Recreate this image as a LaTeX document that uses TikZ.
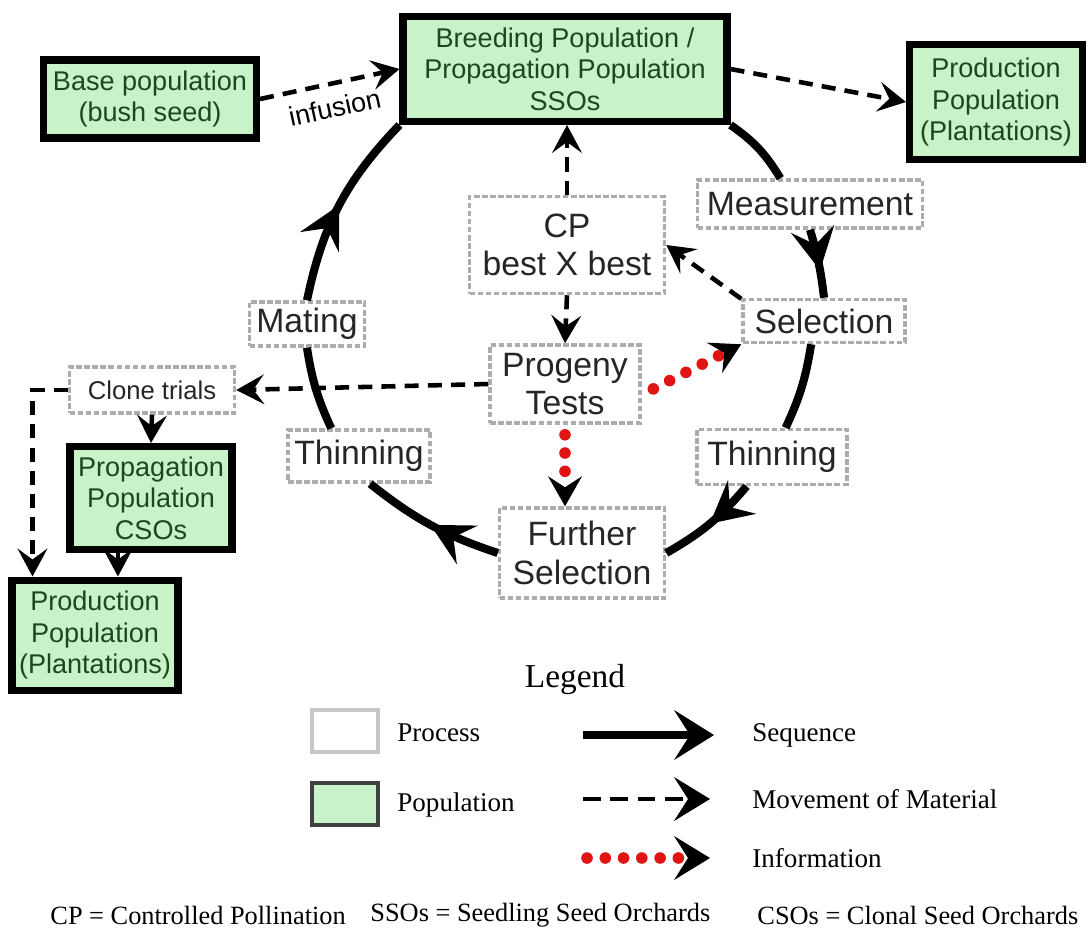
\documentclass[tikz,border=0pt]{standalone}
\usepackage{fontspec}
\setmainfont{Liberation Serif}
\setsansfont{Liberation Sans}
\usetikzlibrary{arrows.meta,decorations.markings}
\definecolor{popfill}{RGB}{200,242,200}
\definecolor{poptext}{RGB}{28,72,28}
\definecolor{infored}{RGB}{225,20,20}
\begin{document}
\begin{tikzpicture}[x=0.1mm,y=-0.1mm,
  proc/.style={draw=gray!65,dash pattern=on 1.6pt off 0.7pt,line width=1pt,fill=white,text=black!85,align=center,inner sep=1pt,font=\sffamily\fontsize{9.6}{11}\selectfont},
  pop/.style={draw=black,line width=2pt,fill=popfill,text=poptext,align=center,inner sep=1pt,font=\sffamily\fontsize{7.7}{9}\selectfont},
  seq/.style={line width=2.3pt,postaction={decorate},decoration={markings,mark=at position #1 with {\arrow{Stealth[length=4.2mm,width=4.4mm,inset=1.6mm,line width=0.4pt]}}}},
  seq/.default=0.5,
  seqline/.style={line width=2.3pt},
  move/.style={line width=1.3pt,dash pattern=on 4pt off 2.6pt,-{Stealth[length=2.8mm,width=3mm,inset=1.1mm,line width=0.4pt]}},
  info/.style={infored,line width=3.3pt,line cap=round,dash pattern=on 0pt off 5.2pt,-{Stealth[color=black,length=3mm,width=3.4mm,inset=1.1mm,line width=0.4pt]}},
  bighead/.style={-{Stealth[color=black,length=3.6mm,width=4.4mm,inset=1.4mm,line width=0.4pt]}},
  legtext/.style={anchor=west,font=\fontsize{7.7}{9}\selectfont}]
\useasboundingbox (0,0) rectangle (1090,931);
\node[pop,minimum width=32.4mm,minimum height=10.5mm] (breed) at (565,69) {Breeding Population /\\Propagation Population\\SSOs};
\node[pop,minimum width=21.3mm,minimum height=7.8mm] (base) at (150,99) {Base population\\(bush seed)};
\node[pop,minimum width=17.3mm,minimum height=11.5mm] (prodR) at (996,102) {Production\\Population\\(Plantations)};
\node[proc,minimum width=22.5mm,minimum height=4.8mm] (meas) at (810,204) {Measurement};
\node[proc,minimum width=19.5mm,minimum height=9.7mm] (cp) at (567,245) {CP\\best X best};
\node[proc,minimum width=16.2mm,minimum height=4.3mm] (sel) at (824,321) {Selection};
\node[proc,minimum width=11.5mm,minimum height=4.4mm] (mating) at (307,324) {Mating};
\node[proc,minimum width=15mm,minimum height=7.8mm] (prog) at (565,384) {Progeny\\Tests};
\node[proc,font=\sffamily\fontsize{7.3}{9}\selectfont,minimum width=16.5mm,minimum height=4.6mm] (clone) at (152,390) {Clone trials};
\node[proc,minimum width=14.2mm,minimum height=5.2mm] (thinL) at (359,456) {Thinning};
\node[proc,minimum width=15mm,minimum height=5.5mm] (thinR) at (772,457) {Thinning};
\node[proc,minimum width=16.5mm,minimum height=9mm] (fur) at (582,553) {Further\\Selection};
\node[pop,minimum width=16.2mm,minimum height=10.3mm] (cso) at (151,498) {Propagation\\Population\\CSOs};
\node[pop,minimum width=16.6mm,minimum height=11mm] (prodL) at (95,635) {Production\\Population\\(Plantations)};
\draw[seq] (mating.north) to[bend left=16] (breed.south west);
\draw[seqline] (breed.south east) to[bend left=12] (meas.139);
\draw[seq=0.6] (meas.south) to[bend left=5] (sel.north);
\draw[seqline] (sel.241) to[bend left=8] (thinR.65);
\draw[seq] (thinR.229) to[bend left=10] (fur.east);
\draw[seq] (fur.west) to[bend left=10] (thinL.292);
\draw[seqline] (thinL.135) to[bend left=8] (mating.south);
\draw[move] (base.east) -- node[sloped,below,pos=0.5,font=\sffamily\fontsize{7.7}{9}\selectfont] {infusion} (breed.west);
\draw[move] (breed.east) -- (prodR.west);
\draw[move] (cp.north) -- (cp.north |- breed.south);
\draw[move] (cp.south) -- (prog.north);
\draw[move] (sel.165) -- (cp.east);
\draw[move] (prog.west) -- (clone.east);
\draw[move] (clone.south) -- (cso.north);
\draw[move] (clone.west) -| ([xshift=2.4mm]prodL.north west);
\draw[move] (cso.239) -- (cso.239 |- prodL.north);
\draw[info,shorten <=1.3mm] (prog.-8) -- (sel.south west);
\draw[info,shorten <=1mm] (prog.south) -- (prog.south |- fur.north);
\node[font=\fontsize{9.5}{11}\selectfont] (leg) at (575,680) {Legend};
\node[draw=gray!45,line width=1pt,minimum width=6.6mm,minimum height=4.2mm] (lproc) at (345,731) {};
\node[draw=black!75,line width=1.4pt,fill=popfill,minimum width=6.6mm,minimum height=4.2mm] (lpop) at (345,804) {};
\node[legtext] (tproc) at (385,733) {Process};
\node[legtext] (tpop) at (385,805) {Population};
\node[legtext] (tseq) at (740,735) {Sequence};
\node[legtext] (tmove) at (740,799) {Movement of Material};
\node[legtext] (tinfo) at (740,858) {Information};
\coordinate (aseq) at (583,735);
\coordinate (amove) at (583,799);
\coordinate (ainfo) at (587,858);
\draw[seqline,-{Stealth[length=4mm,width=5mm,inset=1.6mm,line width=0.4pt]},shorten >=2.6mm] (aseq) -- (tseq.west);
\draw[move,bighead,dash pattern=on 5pt off 2.8pt,shorten >=3mm] (amove) -- (tmove.west);
\draw[info,bighead,shorten >=3mm] (ainfo) -- (tinfo.west);
\foreach \x/\n/\t in {38/fcp/CP = Controlled Pollination,358/fsso/SSOs = Seedling Seed Orchards,745/fcso/CSOs = Clonal Seed Orchards}
  \node[anchor=west,font=\fontsize{7.5}{9}\selectfont] (\n) at (\x,915) {\t};
\end{tikzpicture}
\end{document}
